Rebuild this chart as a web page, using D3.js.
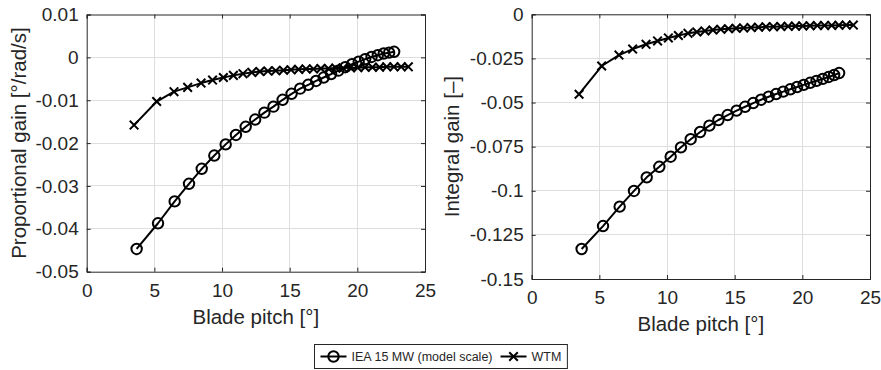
<!DOCTYPE html>
<html>
<head>
<meta charset="utf-8">
<script src="https://cdn.jsdelivr.net/npm/d3@7"></script>
<style>
  html, body { margin: 0; padding: 0; background: #ffffff; }
  svg { display: block; }
  text { font-family: "Liberation Sans", Arial, Helvetica, sans-serif; fill: #262626; }
</style>
</head>
<body>
<svg id="chart" width="881" height="370"></svg>
<script>
// ---------------- data ----------------
const seriesNames = ["IEA 15 MW (model scale)", "WTM"];

const ieaPitch = [3.69, 5.27, 6.50, 7.56, 8.50, 9.43, 10.27, 11.03, 11.75, 12.45,
  13.13, 13.80, 14.48, 15.14, 15.77, 16.37, 16.95, 17.51, 18.06, 18.59,
  19.11, 19.61, 20.10, 20.58, 21.05, 21.51, 21.95, 22.35, 22.72];
const ieaKp = [-0.0447, -0.0387, -0.0336, -0.0295, -0.0260, -0.0229, -0.0203, -0.0181, -0.0162, -0.0145,
  -0.0129, -0.0115, -0.0099, -0.0085, -0.0073, -0.0064, -0.0055, -0.0047, -0.0039, -0.0031,
  -0.0023, -0.0016, -0.0010, -0.0004, 0.0001, 0.0005, 0.0009, 0.0011, 0.0013];
const ieaKi = [-0.1330, -0.1200, -0.1090, -0.1001, -0.0924, -0.0864, -0.0807, -0.0754, -0.0708, -0.0667,
  -0.0631, -0.0599, -0.0571, -0.0546, -0.0524, -0.0503, -0.0484, -0.0467, -0.0452, -0.0438,
  -0.0425, -0.0412, -0.0400, -0.0388, -0.0377, -0.0366, -0.0355, -0.0344, -0.0333];

const wtmPitch = [3.50, 5.17, 6.45, 7.46, 8.45, 9.30, 10.10, 10.84, 11.55, 12.20,
  12.80, 13.39, 13.97, 14.54, 15.10, 15.66, 16.21, 16.76, 17.31, 17.86,
  18.41, 18.95, 19.49, 20.03, 20.57, 21.11, 21.64, 22.17, 22.70, 23.24, 23.77];
const wtmKp = [-0.0158, -0.0103, -0.0080, -0.0070, -0.0060, -0.0053, -0.0047, -0.0042, -0.0038, -0.0035,
  -0.0033, -0.0032, -0.0031, -0.0030, -0.0029, -0.0028, -0.0027, -0.0027, -0.0026, -0.0026,
  -0.0025, -0.0025, -0.0024, -0.0024, -0.0023, -0.0023, -0.0023, -0.0022, -0.0022, -0.0022, -0.0022];
const wtmKi = [-0.0453, -0.0293, -0.0231, -0.0197, -0.0170, -0.0151, -0.0134, -0.0120, -0.0108, -0.0100,
  -0.0094, -0.0089, -0.0085, -0.0082, -0.0079, -0.0077, -0.0075, -0.0073, -0.0071, -0.0070,
  -0.0069, -0.0068, -0.0067, -0.0066, -0.0065, -0.0064, -0.0063, -0.0063, -0.0062, -0.0061, -0.0061];

const xTicks = [0, 5, 10, 15, 20, 25];
const kpTicks = [0.01, 0, -0.01, -0.02, -0.03, -0.04, -0.05];
const kpTickLabels = ["0.01", "0", "-0.01", "-0.02", "-0.03", "-0.04", "-0.05"];
const kiTicks = [0, -0.025, -0.05, -0.075, -0.1, -0.125, -0.15];
const kiTickLabels = ["0", "-0.025", "-0.05", "-0.075", "-0.1", "-0.125", "-0.15"];

const xLabel = "Blade pitch [°]";
const kpLabel = "Proportional gain [°/rad/s]";
const kiLabel = "Integral gain [–]";

// ---------------- drawing ----------------
const svg = d3.select("#chart");
const INK = "#262626";
const GRID = "#dedede";

function panel(cfg) {
  const x = d3.scaleLinear().domain([0, 25]).range([cfg.left, cfg.right]);
  const y = d3.scaleLinear().domain(cfg.yDomain).range([cfg.bottom, cfg.top]);
  const g = svg.append("g");

  // grid
  g.append("g").selectAll("line.gx").data(xTicks.slice(1, -1)).join("line")
    .attr("x1", d => x(d)).attr("x2", d => x(d))
    .attr("y1", cfg.top).attr("y2", cfg.bottom)
    .attr("stroke", GRID).attr("stroke-width", 1).attr("shape-rendering", "crispEdges");
  g.append("g").selectAll("line.gy").data(cfg.yTicks.slice(1, -1)).join("line")
    .attr("x1", cfg.left).attr("x2", cfg.right)
    .attr("y1", d => y(d)).attr("y2", d => y(d))
    .attr("stroke", GRID).attr("stroke-width", 1).attr("shape-rendering", "crispEdges");

  // axes (inward ticks on all sides) via d3 axes
  const tl = 4;
  const xb = d3.axisBottom(x).tickValues(xTicks).tickSize(-tl).tickPadding(12).tickFormat(d3.format("d"));
  const xt = d3.axisTop(x).tickValues(xTicks).tickSize(-tl).tickFormat("");
  const yl = d3.axisLeft(y).tickValues(cfg.yTicks).tickSize(-tl).tickPadding(8)
    .tickFormat((d, i) => cfg.yTickLabels[i]);
  const yr = d3.axisRight(y).tickValues(cfg.yTicks).tickSize(-tl).tickFormat("");

  const styleAxis = (sel, fs) => {
    sel.select(".domain").attr("stroke", INK).attr("stroke-width", 1);
    sel.selectAll(".tick line").attr("stroke", INK).attr("stroke-width", 1);
    sel.selectAll(".tick text").attr("fill", INK)
      .style("font-family", '"Liberation Sans", Arial, Helvetica, sans-serif')
      .style("font-size", fs + "px");
  };
  g.append("g").attr("transform", `translate(0,${cfg.bottom})`).call(xb).call(s => styleAxis(s, 19));
  g.append("g").attr("transform", `translate(0,${cfg.top})`).call(xt).call(s => styleAxis(s, 19));
  g.append("g").attr("transform", `translate(${cfg.left},0)`).call(yl).call(s => styleAxis(s, 19));
  g.append("g").attr("transform", `translate(${cfg.right},0)`).call(yr).call(s => styleAxis(s, 19));

  // labels
  g.append("text").attr("x", (cfg.left + cfg.right) / 2).attr("y", cfg.bottom + 52)
    .attr("text-anchor", "middle").style("font-size", "20.5px").text(xLabel);
  g.append("text")
    .attr("transform", `translate(${cfg.yLabelX},${(cfg.top + cfg.bottom) / 2}) rotate(-90)`)
    .attr("text-anchor", "middle").style("font-size", "20.5px").text(cfg.yLabel);

  // series
  const line = d3.line();
  const drawSeries = (xs, ys, marker) => {
    const pts = xs.map((v, i) => [x(v), y(ys[i])]);
    g.append("path").attr("d", line(pts)).attr("fill", "none")
      .attr("stroke", "#000").attr("stroke-width", 2).attr("stroke-linejoin", "round");
    const mg = g.append("g");
    if (marker === "o") {
      mg.selectAll("circle").data(pts).join("circle")
        .attr("cx", d => d[0]).attr("cy", d => d[1]).attr("r", 5.2)
        .attr("fill", "none").attr("stroke", "#000").attr("stroke-width", 2);
    } else {
      const s = 4.3;
      mg.selectAll("path").data(pts).join("path")
        .attr("d", d => `M${d[0]-s},${d[1]-s}L${d[0]+s},${d[1]+s}M${d[0]-s},${d[1]+s}L${d[0]+s},${d[1]-s}`)
        .attr("fill", "none").attr("stroke", "#000").attr("stroke-width", 2);
    }
  };
  drawSeries(ieaPitch, cfg.iea, "o");
  drawSeries(wtmPitch, cfg.wtm, "x");
}

panel({ left: 86.7, right: 425, top: 14.5, bottom: 271.7, yDomain: [-0.05, 0.01],
  yTicks: kpTicks, yTickLabels: kpTickLabels, yLabel: kpLabel, yLabelX: 26,
  iea: ieaKp, wtm: wtmKp });
panel({ left: 531.7, right: 870, top: 14.3, bottom: 279, yDomain: [-0.15, 0],
  yTicks: kiTicks, yTickLabels: kiTickLabels, yLabel: kiLabel, yLabelX: 459,
  iea: ieaKi, wtm: wtmKi });

// ---------------- legend ----------------
const lg = svg.append("g");
const legFs = 12.5, sampleW = 26, gapS = 5, pad = 6, itemGap = 8;
const box = lg.append("rect").attr("fill", "#fff").attr("stroke", INK).attr("stroke-width", 1);
const items = [];
seriesNames.forEach((name, i) => {
  const ig = lg.append("g");
  ig.append("line").attr("x1", 0).attr("x2", sampleW).attr("y1", 0).attr("y2", 0)
    .attr("stroke", "#000").attr("stroke-width", 2);
  if (i === 0) {
    ig.append("circle").attr("cx", sampleW / 2).attr("cy", 0).attr("r", 5.2)
      .attr("fill", "none").attr("stroke", "#000").attr("stroke-width", 2);
  } else {
    const s = 4.3, c = sampleW / 2;
    ig.append("path").attr("d", `M${c-s},${-s}L${c+s},${s}M${c-s},${s}L${c+s},${-s}`)
      .attr("stroke", "#000").attr("stroke-width", 2);
  }
  const t = ig.append("text").attr("x", sampleW + gapS).attr("y", 0).attr("dy", "0.35em")
    .style("font-size", legFs + "px").text(name);
  items.push({ g: ig, w: sampleW + gapS + t.node().getComputedTextLength() });
});
const totalW = pad * 2 + items.reduce((a, b) => a + b.w, 0) + itemGap * (items.length - 1);
const bx = Math.round(440.5 - totalW / 2) + 0.5, by = 344.5, bh = 24;
box.attr("x", bx).attr("y", by).attr("width", totalW).attr("height", bh);
let cx = bx + pad;
items.forEach(it => { it.g.attr("transform", `translate(${cx},${by + bh / 2})`); cx += it.w + itemGap; });
</script>
</body>
</html>
